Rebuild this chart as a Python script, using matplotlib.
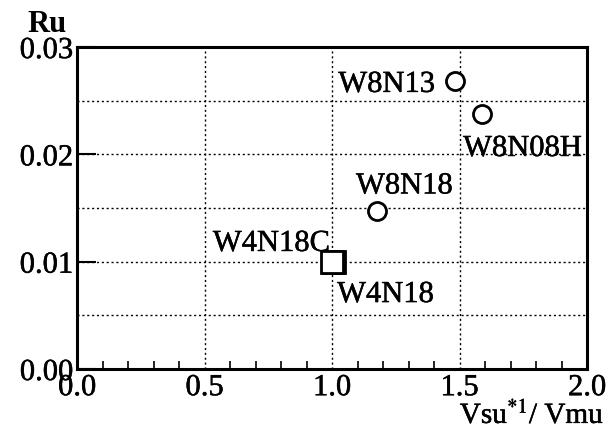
import matplotlib
matplotlib.use("Agg")
import matplotlib.pyplot as plt
import matplotlib.patheffects as pe
from matplotlib.ticker import MultipleLocator

plt.rcParams['font.family'] = ['Liberation Serif', 'DejaVu Serif']
plt.rcParams['mathtext.fontset'] = 'stix'

circle_names = ["W8N13", "W8N08H", "W8N18"]
circle_x = [1.482, 1.588, 1.176]
circle_y = [0.0268, 0.0238, 0.0147]
square_names = ["W4N18C", "W4N18"]
square_x = [1.008, 0.998]
square_y = [0.0100, 0.0100]

xticks = [0.0, 0.5, 1.0, 1.5, 2.0]
xticklabels = ["0.0", "0.5", "1.0", "1.5", "2.0"]
yticks = [0.00, 0.01, 0.02, 0.03]
yticklabels = ["0.00", "0.01", "0.02", "0.03"]

fig = plt.figure(figsize=(6.16, 4.31), dpi=100)
ax = fig.add_axes([0.125, 0.1415, 0.828, 0.747])
ax.set_xlim(0, 2.0)
ax.set_ylim(0, 0.03)

dot = (0, (1.5, 2))
for gx in [0.5, 1.0, 1.5]:
    ax.axvline(gx, color='black', lw=1.0, ls=dot, zorder=1)
for gy in [0.005, 0.01, 0.015, 0.02, 0.025]:
    ax.axhline(gy, color='black', lw=1.0, ls=dot, zorder=1)

ax.plot(circle_x, circle_y, 'o', ms=13, mfc='white', mec='black', mew=2, ls='none', zorder=3)
ax.plot(square_x, square_y, 's', ms=16, mfc='white', mec='black', mew=2, ls='none', zorder=3)

fs = 22
thick = [pe.withStroke(linewidth=0.35, foreground='black')]
tkw = dict(fontsize=fs, va='baseline', path_effects=thick)
ax.text(1.404, 0.02582, circle_names[0], ha='right', zorder=4, **tkw)
ax.text(1.514, 0.01985, circle_names[1], ha='left', zorder=4, **tkw)
ax.text(1.094, 0.01636, circle_names[2], ha='left', zorder=4, **tkw)
ax.text(0.992, 0.0110, square_names[0], ha='right', zorder=2, **tkw)
ax.text(1.020, 0.00624, square_names[1], ha='left', zorder=4, **tkw)

ax.set_xticks(xticks)
ax.set_xticklabels(xticklabels)
ax.set_yticks(yticks)
ax.set_yticklabels(yticklabels)
ax.xaxis.set_minor_locator(MultipleLocator(0.1))
ax.tick_params(axis='x', which='major', direction='in', length=0, pad=3, labelsize=fs)
ax.tick_params(axis='x', which='minor', direction='in', length=6, width=1.2)
ax.tick_params(axis='y', which='major', direction='in', length=14, width=1.5, pad=3, labelsize=fs)
for lab in ax.get_xticklabels() + ax.get_yticklabels():
    lab.set_path_effects(thick)
for s in ax.spines.values():
    s.set_linewidth(2.2)

fig.text(46.5 / 616, 1 - 32 / 431, "Ru", fontsize=fs, fontweight='bold',
         ha='center', va='baseline')
fig.text(604 / 616, 1 / 431, r"Vsu$^{*1}$/ Vmu", fontsize=21,
         ha='right', va='bottom', path_effects=thick)

fig.savefig("out.png", dpi=100)
